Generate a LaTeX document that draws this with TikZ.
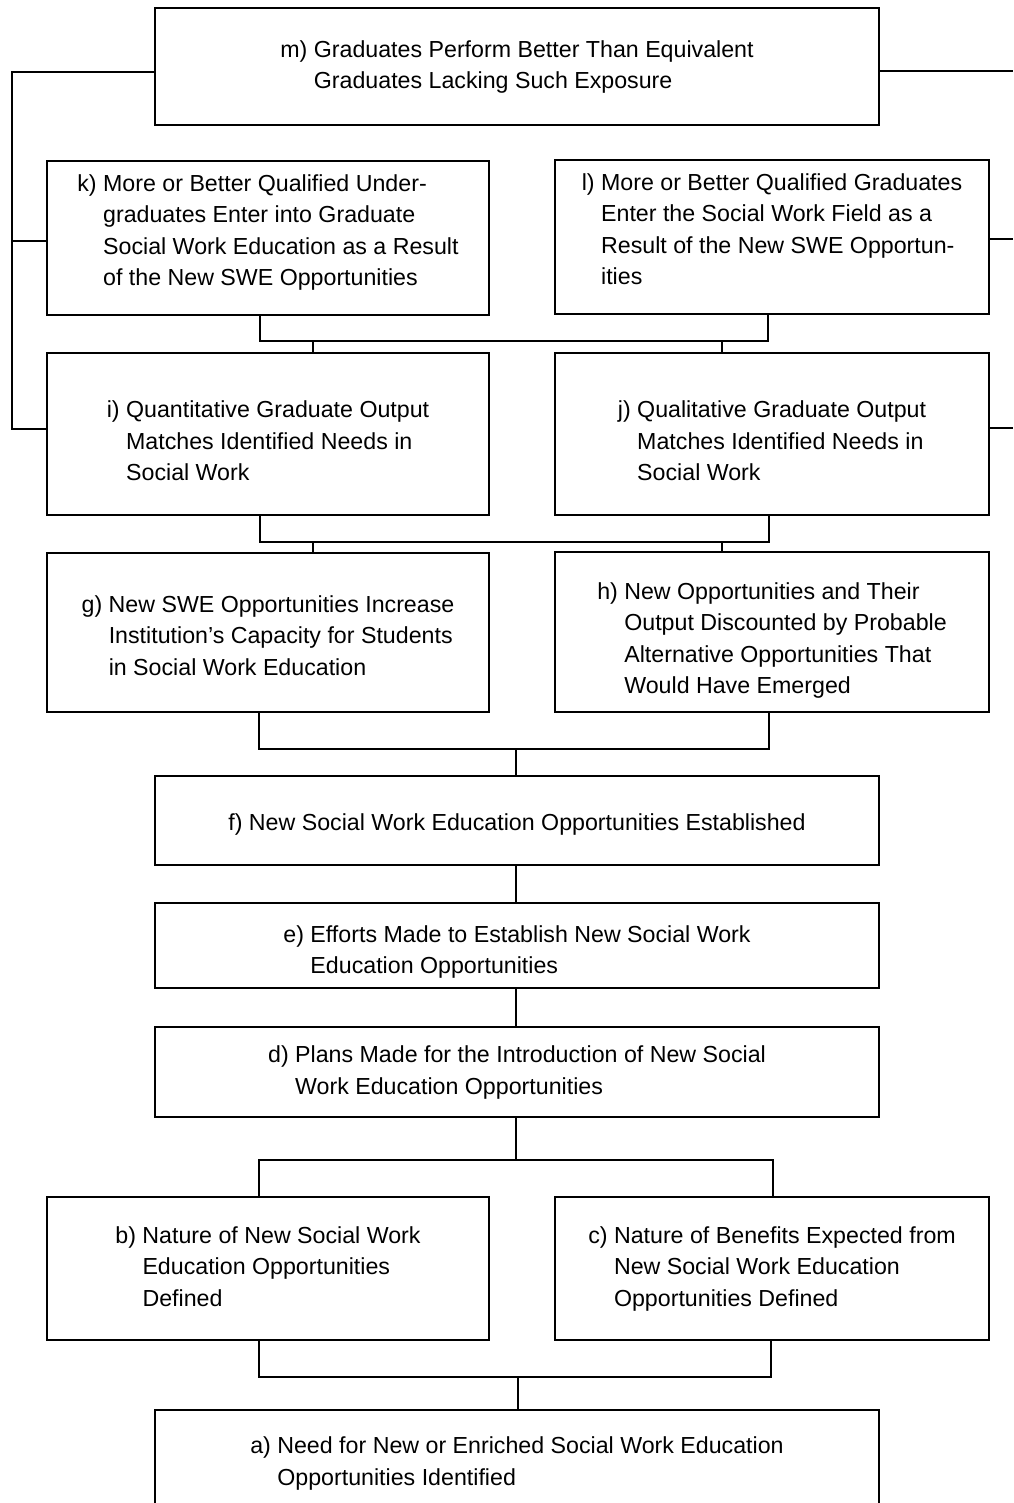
\documentclass[tikz,border=0pt]{standalone}
\usepackage{fontspec}
\setmainfont{Liberation Sans}
% move a text block vertically without changing its reported size
\newcommand\shiftv[2]{\raisebox{#1}[\height][\depth]{#2}}
\begin{document}
\begin{tikzpicture}[x=1pt,y=-1pt,
  box/.style={draw, line width=2.8pt, inner sep=0pt, align=left,
    font=\fontsize{23.2}{31.5}\selectfont},
  wide/.style={box, minimum width=724pt},
  half/.style={box, minimum width=442pt},
  halfr/.style={box, minimum width=434pt},
  link/.style={line width=2.8pt}]
\useasboundingbox (0,0) rectangle (1013,1503);

% outcome boxes
\node[wide, minimum height=117pt] (m) at (517,66.5) {\begin{tabular}{@{}l@{ }l@{}}m) & Graduates Perform Better Than Equivalent\\ & Graduates Lacking Such Exposure\end{tabular}};

\node[half, minimum height=154pt] (k) at (268,238) {\shiftv{6pt}{\begin{tabular}{@{}l@{ }l@{}}k) & More or Better Qualified Under-\\ & graduates Enter into Graduate\\ & Social Work Education as a Result\\ & of the New SWE Opportunities\end{tabular}}};
\node[halfr, minimum height=154pt] (l) at (772,237) {\shiftv{6pt}{\begin{tabular}{@{}l@{ }l@{}}l) & More or Better Qualified Graduates\\ & Enter the Social Work Field as a\\ & Result of the New SWE Opportun-\\ & ities\end{tabular}}};

\node[half, minimum height=162pt] (i) at (268,434) {\shiftv{-9pt}{\begin{tabular}{@{}l@{ }l@{}}i) & Quantitative Graduate Output\\ & Matches Identified Needs in\\ & Social Work\end{tabular}}};
\node[halfr, minimum height=162pt] (j) at (772,434) {\shiftv{-9pt}{\begin{tabular}{@{}l@{ }l@{}}j) & Qualitative Graduate Output\\ & Matches Identified Needs in\\ & Social Work\end{tabular}}};

\node[half, minimum height=159pt] (g) at (268,632.5) {\shiftv{-5pt}{\begin{tabular}{@{}l@{ }l@{}}g) & New SWE Opportunities Increase\\ & Institution's Capacity for Students\\ & in Social Work Education\end{tabular}}};
\node[halfr, minimum height=160pt] (h) at (772,632) {\shiftv{-8pt}{\begin{tabular}{@{}l@{ }l@{}}h) & New Opportunities and Their\\ & Output Discounted by Probable\\ & Alternative Opportunities That\\ & Would Have Emerged\end{tabular}}};

% programme chain
\node[wide, minimum height=89pt] (f) at (517,820.5) {\shiftv{-4pt}{f) New Social Work Education Opportunities Established}};
\node[wide, minimum height=85pt] (e) at (517,945.5) {\shiftv{-6pt}{\begin{tabular}{@{}l@{ }l@{}}e) & Efforts Made to Establish New Social Work\\ & Education Opportunities\end{tabular}}};
\node[wide, minimum height=90pt] (d) at (517,1072) {\begin{tabular}{@{}l@{ }l@{}}d) & Plans Made for the Introduction of New Social\\ & Work Education Opportunities\end{tabular}};

\node[half, minimum height=143pt] (b) at (268,1268.5) {\begin{tabular}{@{}l@{ }l@{}}b) & Nature of New Social Work\\ & Education Opportunities\\ & Defined\end{tabular}};
\node[halfr, minimum height=143pt] (c) at (772,1268.5) {\begin{tabular}{@{}l@{ }l@{}}c) & Nature of Benefits Expected from\\ & New Social Work Education\\ & Opportunities Defined\end{tabular}};

\node[wide, minimum height=100pt] (a) at (517,1460) {\shiftv{-3pt}{\begin{tabular}{@{}l@{ }l@{}}a) & Need for New or Enriched Social Work Education\\ & Opportunities Identified\end{tabular}}};

% junction points
\coordinate (klL) at (260,341);  \coordinate (klR) at (768,341);
\coordinate (ijA) at (313,341);  \coordinate (ijB) at (722,341);
\coordinate (ijL) at (260,542);  \coordinate (ijR) at (769,542);
\coordinate (ghA) at (313,542);  \coordinate (ghB) at (722,542);
\coordinate (ghL) at (259,749);  \coordinate (ghR) at (769,749);
\coordinate (ghM) at (516,749);
\coordinate (mid) at (516,0);
\coordinate (dbM) at (516,1160);
\coordinate (dbL) at (259,1160); \coordinate (dbR) at (773,1160);
\coordinate (bcL) at (259,1377); \coordinate (bcR) at (771,1377);
\coordinate (bcM) at (518,1377);
\coordinate (LT) at (12,72);  \coordinate (LK) at (12,241);  \coordinate (LB) at (12,429);
\coordinate (RT) at (1013,71); \coordinate (RL) at (1013,239); \coordinate (RJ) at (1013,428);

% k, l -> i, j
\draw[link] (k.south -| klL) -- (klL) -- (klR) -- (l.south -| klR);
\draw[link] (ijA) -- (i.north -| ijA);
\draw[link] (ijB) -- (j.north -| ijB);
% i, j -> g, h
\draw[link] (i.south -| ijL) -- (ijL) -- (ijR) -- (j.south -| ijR);
\draw[link] (ghA) -- (g.north -| ghA);
\draw[link] (ghB) -- (h.north -| ghB);
% g, h -> f
\draw[link] (g.south -| ghL) -- (ghL) -- (ghR) -- (h.south -| ghR);
\draw[link] (ghM) -- (f.north -| ghM);
% f -> e -> d
\draw[link] (f.south -| mid) -- (e.north -| mid);
\draw[link] (e.south -| mid) -- (d.north -| mid);
% d -> b, c
\draw[link] (d.south -| dbM) -- (dbM);
\draw[link] (b.north -| dbL) -- (dbL) -- (dbR) -- (c.north -| dbR);
% b, c -> a
\draw[link] (b.south -| bcL) -- (bcL) -- (bcR) -- (c.south -| bcR);
\draw[link] (bcM) -- (a.north -| bcM);

% side feedback lines
\draw[link] (m.west |- LT) -- (LT) -- (LB) -- (i.west |- LB);
\draw[link] (LK) -- (k.west |- LK);
\draw[link] (m.east |- RT) -- (RT);
\draw[link] (l.east |- RL) -- (RL);
\draw[link] (j.east |- RJ) -- (RJ);
\end{tikzpicture}
\end{document}
